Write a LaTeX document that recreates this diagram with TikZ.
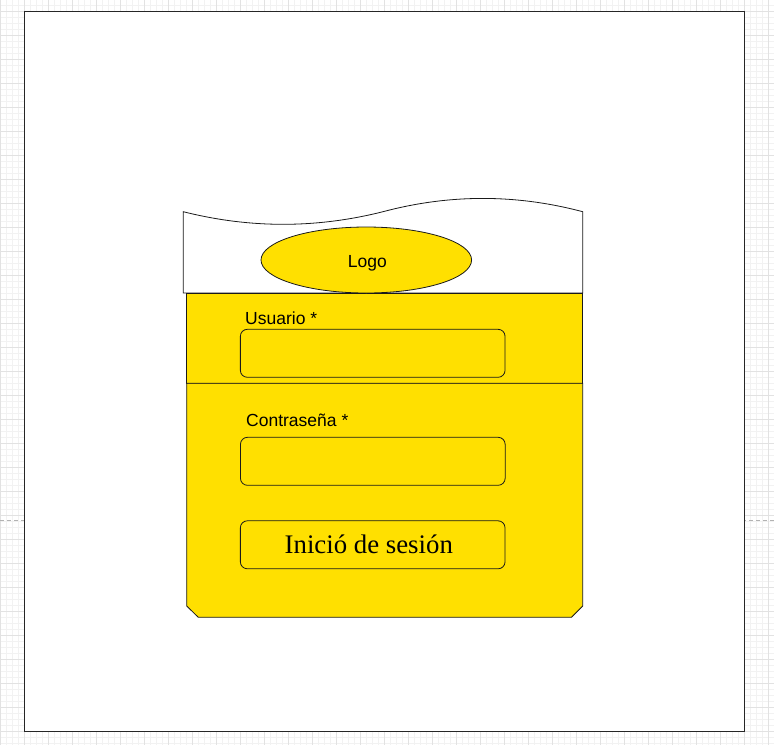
\documentclass[tikz,border=0pt]{standalone}
\usepackage{fontspec}
\setmainfont{Liberation Serif}
\newfontfamily\arialf{Liberation Sans}
\usetikzlibrary{shapes.geometric}
\definecolor{ylw}{HTML}{FFE000}
\definecolor{gridmajor}{HTML}{E2E2E2}
\definecolor{gridminor}{HTML}{F2F2F2}
\definecolor{edge}{HTML}{1A1A1A}
\tikzset{
  shapeline/.style={draw=edge, line width=0.8pt},
  fieldbox/.style={draw=edge, line width=0.8pt, rounded corners=7pt, fill=ylw, minimum width=264.7pt, minimum height=48pt, inner sep=0pt},
  sanslabel/.style={font=\arialf\fontsize{17.5}{20}\selectfont, inner sep=0pt},
}
\begin{document}
\begin{tikzpicture}[x=1pt,y=-1pt]
\useasboundingbox (0,0) rectangle (774,745);
\fill[white] (0,0) rectangle (774,745);
% grid
\foreach \x in {0,6,...,774} \draw[gridminor, line width=0.7pt] (\x,0) -- (\x,745);
\foreach \y in {5,11,...,745} \draw[gridminor, line width=0.7pt] (0,\y) -- (774,\y);
\foreach \x in {0,24,...,774} \draw[gridmajor, line width=0.8pt] (\x,0) -- (\x,745);
\foreach \y in {11,35,...,745} \draw[gridmajor, line width=0.8pt] (0,\y) -- (774,\y);
% page break line
\draw[black!30, line width=0.8pt, dash pattern=on 4pt off 3pt] (0,520.5) -- (774,520.5);
% page
\draw[fill=white, draw=black!85, line width=1.3pt] (24.5,11.5) rectangle (744.5,731.5);
% header tape
\draw[shapeline, fill=white] (183.3,293) -- (183.3,211.7)
  .. controls (249.8,228.5) and (316.3,228.5) .. (383,211.7)
  .. controls (449.5,194) and (516,194) .. (582.7,211.7)
  -- (582.7,293) -- cycle;
% yellow sections
\draw[shapeline, fill=ylw] (186.7,293) rectangle (582.5,383.3);
\draw[shapeline, fill=ylw] (186.7,383.3) -- (186.7,606) -- (198.3,617.3) -- (571.5,617.3) -- (582.7,606) -- (582.7,383.3) -- cycle;
% logo
\node[ellipse, shapeline, fill=ylw, minimum width=210.6pt, minimum height=66pt, inner sep=0pt] (logo) at (366.3,260) {};
\node[sanslabel, anchor=base] (logotext) at (367.3,267) {Logo};
% fields
\node[sanslabel, anchor=base west] (userlabel) at (245,324) {Usuario *};
\node[fieldbox] (userfield) at (372.7,353.3) {};
\node[sanslabel, anchor=base west] (passlabel) at (246,426) {Contraseña *};
\node[fieldbox] (passfield) at (372.8,461.3) {};
\node[fieldbox] (loginbtn) at (372.7,544.8) {};
\node[font=\fontsize{26.8}{30}\selectfont, inner sep=0pt, anchor=base] (logintext) at (368.8,553.3) {Inició de sesión};
\end{tikzpicture}
\end{document}
